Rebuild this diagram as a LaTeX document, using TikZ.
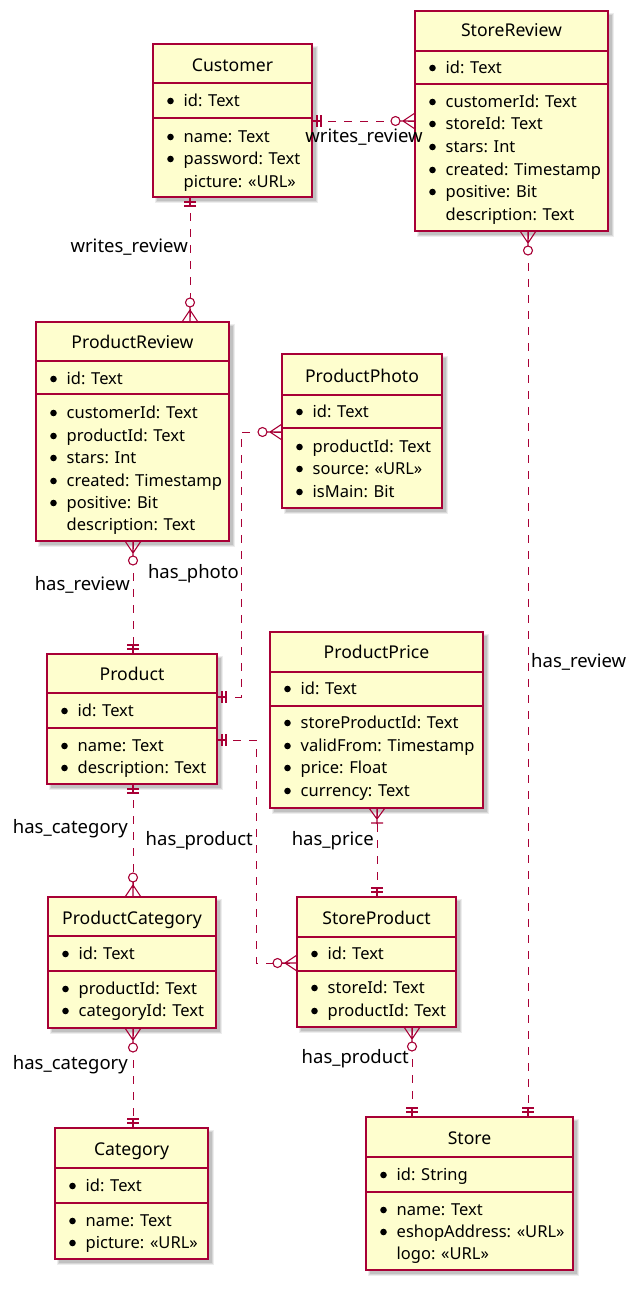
\documentclass[tikz,border=0pt]{standalone}
\usepackage{fontspec}
\setmainfont{Noto Sans}
\usetikzlibrary{calc}
\definecolor{erfill}{HTML}{FEFECE}
\definecolor{erline}{HTML}{A80036}
\newcounter{ac}
\tikzset{
  entbox/.style={draw=erline, fill=erfill, line width=1.6pt, inner sep=0pt, outer sep=0pt},
  entsep/.style={draw=erline, line width=1.1pt},
  enttitle/.style={font=\fontsize{17.6}{21}\selectfont, inner sep=0pt, anchor=base},
  attr/.style={font=\fontsize{16.5}{19}\selectfont, inner sep=0pt, anchor=base west},
  rel/.style={draw=erline, line width=1pt, dash pattern=on 8pt off 8pt},
  rlabel/.style={font=\fontsize{18.5}{22}\selectfont, inner sep=0pt},
  mk/.style={draw=erline, line width=1.1pt, solid},
  onlyone/.pic={\draw[mk] (0,0)--(10,0) (5,-6)--(5,6) (9,-6)--(9,6);},
  zeromany/.pic={\draw[mk] (0,-8)--(12,0)--(0,8) (0,0)--(15,0);
                 \draw[mk, fill=white] (19.5,0) circle[radius=4.5];},
  onemany/.pic={\draw[mk] (0,-8)--(11,0)--(0,8) (0,0)--(16,0) (15,-6)--(15,6);},
}
\newcommand\ent[6]{%
  \fill[black, opacity=.07] (#2+2,#3+2) rectangle (#4+6,#5+6);
  \fill[black, opacity=.09] (#2+3,#3+3) rectangle (#4+5,#5+5);
  \fill[black, opacity=.10] (#2+4,#3+4) rectangle (#4+4,#5+4);
  \node[entbox, minimum width={(#4-#2)*1pt}, minimum height={(#5-#3)*1pt}] (#1) at ({(#2+#4)/2},{(#3+#5)/2}) {};
  \node[enttitle] (#1-title) at ({(#2+#4)/2},#6+6) {#1};
}
\newcommand\hsep[2]{\draw[entsep] (#1.west |- 0,#2) -- (#1.east |- 0,#2);}
\newcommand\ba[3]{%
  \fill ([xshift=17.5pt]#1.west |- 0,#2) circle[radius=3.3];
  \stepcounter{ac}\node[attr] (at\theac) at ([xshift=30.5pt]#1.west |- 0,#2+5.8) {#3};}
\newcommand\na[3]{%
  \stepcounter{ac}\node[attr] (at\theac) at ([xshift=30.5pt]#1.west |- 0,#2+5.8) {#3};}
\begin{document}
\begin{tikzpicture}[x=1pt, y=-1pt]
\useasboundingbox (0,0) rectangle (639,1290);
\fill[white] (0,0) rectangle (639,1290);

% ---- entities
\ent{Customer}{153}{44}{312}{197}{65}
\hsep{Customer}{83}\hsep{Customer}{118}
\ba{Customer}{101}{id: Text}
\ba{Customer}{137}{name: Text}
\ba{Customer}{159}{password: Text}
\na{Customer}{182}{picture: «URL»}

\ent{StoreReview}{415}{11}{608}{231}{31}
\hsep{StoreReview}{51}\hsep{StoreReview}{84}
\ba{StoreReview}{68}{id: Text}
\ba{StoreReview}{102}{customerId: Text}
\ba{StoreReview}{124}{storeId: Text}
\ba{StoreReview}{147}{stars: Int}
\ba{StoreReview}{170}{created: Timestamp}
\ba{StoreReview}{192}{positive: Bit}
\na{StoreReview}{215}{description: Text}

\ent{ProductReview}{36}{322}{229}{541}{342}
\hsep{ProductReview}{361}\hsep{ProductReview}{394}
\ba{ProductReview}{379}{id: Text}
\ba{ProductReview}{413}{customerId: Text}
\ba{ProductReview}{436}{productId: Text}
\ba{ProductReview}{458}{stars: Int}
\ba{ProductReview}{481}{created: Timestamp}
\ba{ProductReview}{503}{positive: Bit}
\na{ProductReview}{525}{description: Text}

\ent{ProductPhoto}{282}{354}{442}{508}{376}
\hsep{ProductPhoto}{395}\hsep{ProductPhoto}{428}
\ba{ProductPhoto}{412}{id: Text}
\ba{ProductPhoto}{447}{productId: Text}
\ba{ProductPhoto}{469}{source: «URL»}
\ba{ProductPhoto}{492}{isMain: Bit}

\ent{Product}{47}{654}{217}{784}{674}
\hsep{Product}{693}\hsep{Product}{728}
\ba{Product}{711}{id: Text}
\ba{Product}{746}{name: Text}
\ba{Product}{768}{description: Text}

\ent{ProductPrice}{270}{632}{483}{808}{652}
\hsep{ProductPrice}{672}\hsep{ProductPrice}{706}
\ba{ProductPrice}{689}{id: Text}
\ba{ProductPrice}{723}{storeProductId: Text}
\ba{ProductPrice}{746}{validFrom: Timestamp}
\ba{ProductPrice}{768}{price: Float}
\ba{ProductPrice}{791}{currency: Text}

\ent{StoreProduct}{297}{897}{456}{1027}{918}
\hsep{StoreProduct}{937}\hsep{StoreProduct}{971}
\ba{StoreProduct}{954}{id: Text}
\ba{StoreProduct}{988}{storeId: Text}
\ba{StoreProduct}{1011}{productId: Text}

\ent{ProductCategory}{48}{897}{216}{1028}{918}
\hsep{ProductCategory}{936}\hsep{ProductCategory}{971}
\ba{ProductCategory}{954}{id: Text}
\ba{ProductCategory}{989}{productId: Text}
\ba{ProductCategory}{1011}{categoryId: Text}

\ent{Category}{55}{1128}{208}{1259}{1149}
\hsep{Category}{1168}\hsep{Category}{1203}
\ba{Category}{1186}{id: Text}
\ba{Category}{1221}{name: Text}
\ba{Category}{1243}{picture: «URL»}

\ent{Store}{366}{1117}{573}{1270}{1138}
\hsep{Store}{1157}\hsep{Store}{1192}
\ba{Store}{1175}{id: String}
\ba{Store}{1210}{name: Text}
\ba{Store}{1232}{eshopAddress: «URL»}
\na{Store}{1254}{logo: «URL»}

% ---- relations
% Customer - StoreReview
\draw[rel] (Customer.east |- 0,121) -- (StoreReview.west |- 0,121);
\pic at (Customer.east |- 0,121) {onlyone};
\pic[rotate=180] at (StoreReview.west |- 0,121) {zeromany};
\node[rlabel] (l1) at (364,137) {writes\_review};

% Customer - ProductReview
\draw[rel] (Customer.south -| 190,0) -- (ProductReview.north -| 190,0);
\pic[rotate=-90] at (Customer.south -| 190,0) {onlyone};
\pic[rotate=90] at (ProductReview.north -| 190,0) {zeromany};
\node[rlabel, anchor=east] (l2) at (188,247) {writes\_review};

% ProductReview - Product
\draw[rel] (ProductReview.south -| 133,0) -- (Product.north -| 133,0);
\pic[rotate=-90] at (ProductReview.south -| 133,0) {zeromany};
\pic[rotate=90] at (Product.north -| 133,0) {onlyone};
\node[rlabel, anchor=east] (l3) at (130,585) {has\_review};

% ProductPhoto - Product
\coordinate (ph1) at (241,432);
\coordinate (ph2) at (241,697);
\draw[rel] (ProductPhoto.west |- ph1) -- (ph1) -- (ph2) -- (Product.east |- ph2);
\pic[rotate=180] at (ProductPhoto.west |- ph1) {zeromany};
\pic at (Product.east |- ph2) {onlyone};
\node[rlabel, anchor=east] (l4) at (239,574) {has\_photo};

% Product - StoreProduct
\coordinate (pp1) at (256,740);
\coordinate (pp2) at (256,963);
\draw[rel] (Product.east |- pp1) -- (pp1) -- (pp2) -- (StoreProduct.west |- pp2);
\pic at (Product.east |- pp1) {onlyone};
\pic[rotate=180] at (StoreProduct.west |- pp2) {zeromany};
\node[rlabel, anchor=east] (l5) at (253,841) {has\_product};

% ProductPrice - StoreProduct
\draw[rel] (ProductPrice.south -| 377,0) -- (StoreProduct.north -| 377,0);
\pic[rotate=-90] at (ProductPrice.south -| 377,0) {onemany};
\pic[rotate=90] at (StoreProduct.north -| 377,0) {onlyone};
\node[rlabel, anchor=east] (l6) at (374,841) {has\_price};

% Product - ProductCategory
\draw[rel] (Product.south -| 133,0) -- (ProductCategory.north -| 133,0);
\pic[rotate=-90] at (Product.south -| 133,0) {onlyone};
\pic[rotate=90] at (ProductCategory.north -| 133,0) {zeromany};
\node[rlabel, anchor=east] (l7) at (128,829) {has\_category};

% ProductCategory - Category
\draw[rel] (ProductCategory.south -| 133,0) -- (Category.north -| 133,0);
\pic[rotate=-90] at (ProductCategory.south -| 133,0) {zeromany};
\pic[rotate=90] at (Category.north -| 133,0) {onlyone};
\node[rlabel, anchor=east] (l8) at (128,1065) {has\_category};

% StoreProduct - Store
\draw[rel] (StoreProduct.south -| 412,0) -- (Store.north -| 412,0);
\pic[rotate=-90] at (StoreProduct.south -| 412,0) {zeromany};
\pic[rotate=90] at (Store.north -| 412,0) {onlyone};
\node[rlabel, anchor=east] (l9) at (409,1059) {has\_product};

% StoreReview - Store
\draw[rel] (StoreReview.south -| 528,0) -- (Store.north -| 528,0);
\pic[rotate=-90] at (StoreReview.south -| 528,0) {zeromany};
\pic[rotate=90] at (Store.north -| 528,0) {onlyone};
\node[rlabel, anchor=west] (l10) at (531,662) {has\_review};
\end{tikzpicture}
\end{document}
